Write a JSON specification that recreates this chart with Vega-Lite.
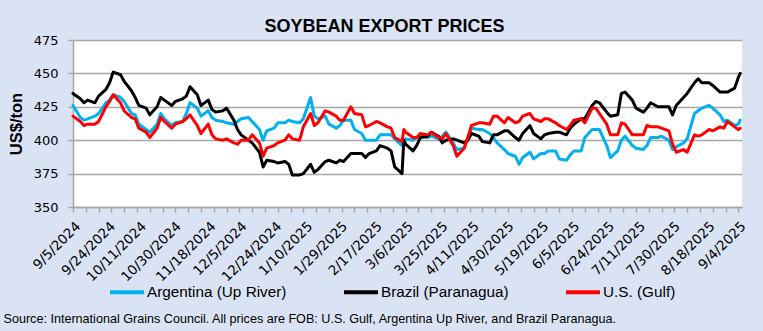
{
  "$schema": "https://vega.github.io/schema/vega-lite/v6.json",
  "width": 669,
  "height": 167,
  "autosize": {"type": "none"},
  "padding": {"left": 73, "top": 40, "right": 21, "bottom": 124},
  "background": "#dae3f3",
  "config": {"view": {"stroke": null, "fill": "white"}},
  "title": {"text": "SOYBEAN EXPORT PRICES", "font": "Liberation Sans", "fontSize": 18, "fontWeight": "bold", "color": "#000000", "anchor": "middle", "dx": -23, "dy": 23, "offset": 7, "baseline": "alphabetic"},
  "data": {"values": [
    {"date": "2024-09-05", "Argentina": 426, "Brazil": 435, "US": 418},
    {"date": "2024-09-09", "Argentina": 417, "Brazil": 431, "US": 414},
    {"date": "2024-09-11", "Argentina": 415, "Brazil": 428, "US": 411},
    {"date": "2024-09-13", "Argentina": 416, "Brazil": 430, "US": 412},
    {"date": "2024-09-17", "Argentina": 418, "Brazil": 428, "US": 412},
    {"date": "2024-09-19", "Argentina": 420, "Brazil": 433, "US": 414},
    {"date": "2024-09-23", "Argentina": 428, "Brazil": 438, "US": 425},
    {"date": "2024-09-25", "Argentina": 430, "Brazil": 443, "US": 429},
    {"date": "2024-09-27", "Argentina": 434, "Brazil": 451, "US": 434},
    {"date": "2024-10-01", "Argentina": 432, "Brazil": 449, "US": 428},
    {"date": "2024-10-03", "Argentina": 429, "Brazil": 444, "US": 422},
    {"date": "2024-10-07", "Argentina": 420, "Brazil": 437, "US": 417},
    {"date": "2024-10-09", "Argentina": 419, "Brazil": 432, "US": 416},
    {"date": "2024-10-11", "Argentina": 412, "Brazil": 426, "US": 409},
    {"date": "2024-10-15", "Argentina": 408, "Brazil": 424, "US": 406},
    {"date": "2024-10-17", "Argentina": 406, "Brazil": 419, "US": 402},
    {"date": "2024-10-21", "Argentina": 412, "Brazil": 425, "US": 409},
    {"date": "2024-10-23", "Argentina": 420, "Brazil": 432, "US": 417},
    {"date": "2024-10-25", "Argentina": 416, "Brazil": 430, "US": 414},
    {"date": "2024-10-29", "Argentina": 411, "Brazil": 426, "US": 409},
    {"date": "2024-10-31", "Argentina": 413, "Brazil": 429, "US": 412},
    {"date": "2024-11-04", "Argentina": 414, "Brazil": 431, "US": 414},
    {"date": "2024-11-06", "Argentina": 420, "Brazil": 433, "US": 416},
    {"date": "2024-11-08", "Argentina": 428, "Brazil": 440, "US": 419},
    {"date": "2024-11-12", "Argentina": 424, "Brazil": 434, "US": 411},
    {"date": "2024-11-14", "Argentina": 418, "Brazil": 426, "US": 405},
    {"date": "2024-11-18", "Argentina": 422, "Brazil": 430, "US": 412},
    {"date": "2024-11-20", "Argentina": 417, "Brazil": 423, "US": 404},
    {"date": "2024-11-22", "Argentina": 415, "Brazil": 421, "US": 401},
    {"date": "2024-11-26", "Argentina": 414, "Brazil": 422, "US": 400},
    {"date": "2024-11-28", "Argentina": 413, "Brazil": 424, "US": 401},
    {"date": "2024-12-02", "Argentina": 412, "Brazil": 415, "US": 398},
    {"date": "2024-12-04", "Argentina": 414, "Brazil": 408, "US": 397},
    {"date": "2024-12-06", "Argentina": 416, "Brazil": 404, "US": 400},
    {"date": "2024-12-10", "Argentina": 417, "Brazil": 400, "US": 400},
    {"date": "2024-12-12", "Argentina": 414, "Brazil": 398, "US": 404},
    {"date": "2024-12-16", "Argentina": 408, "Brazil": 391, "US": 398},
    {"date": "2024-12-18", "Argentina": 400, "Brazil": 380, "US": 388},
    {"date": "2024-12-20", "Argentina": 407, "Brazil": 385, "US": 394},
    {"date": "2024-12-24", "Argentina": 409, "Brazil": 384, "US": 396},
    {"date": "2024-12-26", "Argentina": 413, "Brazil": 383, "US": 398},
    {"date": "2024-12-30", "Argentina": 413, "Brazil": 384, "US": 400},
    {"date": "2025-01-01", "Argentina": 415, "Brazil": 382, "US": 404},
    {"date": "2025-01-03", "Argentina": 414, "Brazil": 374, "US": 401},
    {"date": "2025-01-07", "Argentina": 413, "Brazil": 374, "US": 400},
    {"date": "2025-01-09", "Argentina": 416, "Brazil": 375, "US": 410},
    {"date": "2025-01-13", "Argentina": 432, "Brazil": 382, "US": 420},
    {"date": "2025-01-15", "Argentina": 418, "Brazil": 376, "US": 411},
    {"date": "2025-01-17", "Argentina": 416, "Brazil": 378, "US": 413},
    {"date": "2025-01-21", "Argentina": 418, "Brazil": 384, "US": 422},
    {"date": "2025-01-23", "Argentina": 412, "Brazil": 385, "US": 421},
    {"date": "2025-01-27", "Argentina": 409, "Brazil": 383, "US": 418},
    {"date": "2025-01-29", "Argentina": 411, "Brazil": 385, "US": 415},
    {"date": "2025-01-31", "Argentina": 415, "Brazil": 384, "US": 415},
    {"date": "2025-02-04", "Argentina": 415, "Brazil": 390, "US": 425},
    {"date": "2025-02-06", "Argentina": 408, "Brazil": 390, "US": 420},
    {"date": "2025-02-10", "Argentina": 405, "Brazil": 390, "US": 419},
    {"date": "2025-02-12", "Argentina": 400, "Brazil": 387, "US": 410},
    {"date": "2025-02-14", "Argentina": 400, "Brazil": 390, "US": 411},
    {"date": "2025-02-18", "Argentina": 400, "Brazil": 392, "US": 414},
    {"date": "2025-02-20", "Argentina": 404, "Brazil": 396, "US": 413},
    {"date": "2025-02-24", "Argentina": 404, "Brazil": 394, "US": 410},
    {"date": "2025-02-26", "Argentina": 404, "Brazil": 392, "US": 409},
    {"date": "2025-02-28", "Argentina": 401, "Brazil": 380, "US": 402},
    {"date": "2025-03-04", "Argentina": 396, "Brazil": 375, "US": 399},
    {"date": "2025-03-05", "Argentina": 399, "Brazil": 400, "US": 408},
    {"date": "2025-03-06", "Argentina": 401, "Brazil": 397, "US": 406},
    {"date": "2025-03-10", "Argentina": 400, "Brazil": 392, "US": 402},
    {"date": "2025-03-12", "Argentina": 402, "Brazil": 396, "US": 402},
    {"date": "2025-03-14", "Argentina": 403, "Brazil": 402, "US": 405},
    {"date": "2025-03-18", "Argentina": 402, "Brazil": 403, "US": 404},
    {"date": "2025-03-20", "Argentina": 403, "Brazil": 406, "US": 406},
    {"date": "2025-03-24", "Argentina": 401, "Brazil": 403, "US": 402},
    {"date": "2025-03-26", "Argentina": 403, "Brazil": 398, "US": 401},
    {"date": "2025-03-28", "Argentina": 406, "Brazil": 400, "US": 405},
    {"date": "2025-04-01", "Argentina": 398, "Brazil": 401, "US": 396},
    {"date": "2025-04-03", "Argentina": 393, "Brazil": 400, "US": 388},
    {"date": "2025-04-07", "Argentina": 394, "Brazil": 398, "US": 394},
    {"date": "2025-04-09", "Argentina": 402, "Brazil": 400, "US": 402},
    {"date": "2025-04-11", "Argentina": 409, "Brazil": 405, "US": 411},
    {"date": "2025-04-15", "Argentina": 408, "Brazil": 403, "US": 413},
    {"date": "2025-04-17", "Argentina": 408, "Brazil": 399, "US": 413},
    {"date": "2025-04-21", "Argentina": 405, "Brazil": 398, "US": 412},
    {"date": "2025-04-23", "Argentina": 402, "Brazil": 404, "US": 418},
    {"date": "2025-04-25", "Argentina": 398, "Brazil": 404, "US": 418},
    {"date": "2025-04-29", "Argentina": 393, "Brazil": 407, "US": 413},
    {"date": "2025-05-01", "Argentina": 390, "Brazil": 407, "US": 417},
    {"date": "2025-05-05", "Argentina": 388, "Brazil": 402, "US": 413},
    {"date": "2025-05-07", "Argentina": 382, "Brazil": 400, "US": 414},
    {"date": "2025-05-09", "Argentina": 387, "Brazil": 405, "US": 418},
    {"date": "2025-05-13", "Argentina": 391, "Brazil": 411, "US": 420},
    {"date": "2025-05-15", "Argentina": 386, "Brazil": 405, "US": 416},
    {"date": "2025-05-19", "Argentina": 390, "Brazil": 401, "US": 414},
    {"date": "2025-05-21", "Argentina": 390, "Brazil": 404, "US": 416},
    {"date": "2025-05-23", "Argentina": 392, "Brazil": 405, "US": 416},
    {"date": "2025-05-27", "Argentina": 392, "Brazil": 406, "US": 413},
    {"date": "2025-05-29", "Argentina": 386, "Brazil": 406, "US": 411},
    {"date": "2025-06-02", "Argentina": 385, "Brazil": 404, "US": 408},
    {"date": "2025-06-04", "Argentina": 389, "Brazil": 409, "US": 411},
    {"date": "2025-06-06", "Argentina": 392, "Brazil": 412, "US": 415},
    {"date": "2025-06-10", "Argentina": 392, "Brazil": 416, "US": 416},
    {"date": "2025-06-12", "Argentina": 402, "Brazil": 416, "US": 413},
    {"date": "2025-06-16", "Argentina": 408, "Brazil": 426, "US": 424},
    {"date": "2025-06-18", "Argentina": 408, "Brazil": 429, "US": 424},
    {"date": "2025-06-20", "Argentina": 408, "Brazil": 428, "US": 420},
    {"date": "2025-06-24", "Argentina": 396, "Brazil": 421, "US": 412},
    {"date": "2025-06-26", "Argentina": 387, "Brazil": 418, "US": 404},
    {"date": "2025-06-30", "Argentina": 392, "Brazil": 419, "US": 404},
    {"date": "2025-07-02", "Argentina": 400, "Brazil": 435, "US": 413},
    {"date": "2025-07-04", "Argentina": 403, "Brazil": 436, "US": 412},
    {"date": "2025-07-08", "Argentina": 396, "Brazil": 430, "US": 404},
    {"date": "2025-07-10", "Argentina": 394, "Brazil": 424, "US": 404},
    {"date": "2025-07-14", "Argentina": 393, "Brazil": 421, "US": 404},
    {"date": "2025-07-16", "Argentina": 396, "Brazil": 424, "US": 411},
    {"date": "2025-07-18", "Argentina": 402, "Brazil": 428, "US": 410},
    {"date": "2025-07-22", "Argentina": 402, "Brazil": 425, "US": 410},
    {"date": "2025-07-24", "Argentina": 403, "Brazil": 425, "US": 409},
    {"date": "2025-07-28", "Argentina": 400, "Brazil": 425, "US": 407},
    {"date": "2025-07-30", "Argentina": 393, "Brazil": 419, "US": 397},
    {"date": "2025-08-01", "Argentina": 395, "Brazil": 426, "US": 391},
    {"date": "2025-08-05", "Argentina": 398, "Brazil": 432, "US": 393},
    {"date": "2025-08-07", "Argentina": 401, "Brazil": 435, "US": 391},
    {"date": "2025-08-11", "Argentina": 420, "Brazil": 443, "US": 404},
    {"date": "2025-08-13", "Argentina": 422, "Brazil": 446, "US": 403},
    {"date": "2025-08-15", "Argentina": 424, "Brazil": 443, "US": 404},
    {"date": "2025-08-19", "Argentina": 426, "Brazil": 443, "US": 408},
    {"date": "2025-08-21", "Argentina": 424, "Brazil": 441, "US": 407},
    {"date": "2025-08-25", "Argentina": 419, "Brazil": 436, "US": 410},
    {"date": "2025-08-27", "Argentina": 414, "Brazil": 436, "US": 409},
    {"date": "2025-08-29", "Argentina": 415, "Brazil": 436, "US": 414},
    {"date": "2025-09-02", "Argentina": 411, "Brazil": 439, "US": 410},
    {"date": "2025-09-04", "Argentina": 412, "Brazil": 447, "US": 408},
    {"date": "2025-09-05", "Argentina": 415, "Brazil": 450, "US": 409}
  ]},
  "transform": [{"fold": ["Argentina", "Brazil", "US"], "as": ["series", "price"]}],
  "mark": {"type": "line", "strokeWidth": 3, "strokeJoin": "round", "strokeCap": "round"},
  "encoding": {
    "x": {
      "field": "date", "type": "temporal",
      "scale": {"type": "utc", "domain": [{"year": 2024, "month": 9, "date": 5, "utc": true}, {"year": 2025, "month": 9, "date": 6, "utc": true}]},
      "axis": {
        "values": [
          {"year": 2024, "month": 9, "date": 5, "utc": true}, {"year": 2024, "month": 9, "date": 12, "utc": true}, {"year": 2024, "month": 9, "date": 19, "utc": true}, {"year": 2024, "month": 9, "date": 24, "utc": true}, {"year": 2024, "month": 9, "date": 26, "utc": true},
          {"year": 2024, "month": 10, "date": 3, "utc": true}, {"year": 2024, "month": 10, "date": 10, "utc": true}, {"year": 2024, "month": 10, "date": 11, "utc": true}, {"year": 2024, "month": 10, "date": 17, "utc": true}, {"year": 2024, "month": 10, "date": 24, "utc": true}, {"year": 2024, "month": 10, "date": 30, "utc": true}, {"year": 2024, "month": 10, "date": 31, "utc": true},
          {"year": 2024, "month": 11, "date": 7, "utc": true}, {"year": 2024, "month": 11, "date": 14, "utc": true}, {"year": 2024, "month": 11, "date": 18, "utc": true}, {"year": 2024, "month": 11, "date": 21, "utc": true}, {"year": 2024, "month": 11, "date": 28, "utc": true},
          {"year": 2024, "month": 12, "date": 5, "utc": true}, {"year": 2024, "month": 12, "date": 12, "utc": true}, {"year": 2024, "month": 12, "date": 19, "utc": true}, {"year": 2024, "month": 12, "date": 24, "utc": true}, {"year": 2024, "month": 12, "date": 26, "utc": true},
          {"year": 2025, "month": 1, "date": 2, "utc": true}, {"year": 2025, "month": 1, "date": 9, "utc": true}, {"year": 2025, "month": 1, "date": 10, "utc": true}, {"year": 2025, "month": 1, "date": 16, "utc": true}, {"year": 2025, "month": 1, "date": 23, "utc": true}, {"year": 2025, "month": 1, "date": 29, "utc": true}, {"year": 2025, "month": 1, "date": 30, "utc": true},
          {"year": 2025, "month": 2, "date": 6, "utc": true}, {"year": 2025, "month": 2, "date": 13, "utc": true}, {"year": 2025, "month": 2, "date": 17, "utc": true}, {"year": 2025, "month": 2, "date": 20, "utc": true}, {"year": 2025, "month": 2, "date": 27, "utc": true},
          {"year": 2025, "month": 3, "date": 6, "utc": true}, {"year": 2025, "month": 3, "date": 13, "utc": true}, {"year": 2025, "month": 3, "date": 20, "utc": true}, {"year": 2025, "month": 3, "date": 25, "utc": true}, {"year": 2025, "month": 3, "date": 27, "utc": true},
          {"year": 2025, "month": 4, "date": 3, "utc": true}, {"year": 2025, "month": 4, "date": 10, "utc": true}, {"year": 2025, "month": 4, "date": 11, "utc": true}, {"year": 2025, "month": 4, "date": 17, "utc": true}, {"year": 2025, "month": 4, "date": 24, "utc": true}, {"year": 2025, "month": 4, "date": 30, "utc": true},
          {"year": 2025, "month": 5, "date": 1, "utc": true}, {"year": 2025, "month": 5, "date": 8, "utc": true}, {"year": 2025, "month": 5, "date": 15, "utc": true}, {"year": 2025, "month": 5, "date": 19, "utc": true}, {"year": 2025, "month": 5, "date": 22, "utc": true}, {"year": 2025, "month": 5, "date": 29, "utc": true},
          {"year": 2025, "month": 6, "date": 5, "utc": true}, {"year": 2025, "month": 6, "date": 12, "utc": true}, {"year": 2025, "month": 6, "date": 19, "utc": true}, {"year": 2025, "month": 6, "date": 24, "utc": true}, {"year": 2025, "month": 6, "date": 26, "utc": true},
          {"year": 2025, "month": 7, "date": 3, "utc": true}, {"year": 2025, "month": 7, "date": 10, "utc": true}, {"year": 2025, "month": 7, "date": 11, "utc": true}, {"year": 2025, "month": 7, "date": 17, "utc": true}, {"year": 2025, "month": 7, "date": 24, "utc": true}, {"year": 2025, "month": 7, "date": 30, "utc": true}, {"year": 2025, "month": 7, "date": 31, "utc": true},
          {"year": 2025, "month": 8, "date": 7, "utc": true}, {"year": 2025, "month": 8, "date": 14, "utc": true}, {"year": 2025, "month": 8, "date": 18, "utc": true}, {"year": 2025, "month": 8, "date": 21, "utc": true}, {"year": 2025, "month": 8, "date": 28, "utc": true},
          {"year": 2025, "month": 9, "date": 4, "utc": true}
        ],
        "labelExpr": "indexof(['9/5/2024','9/24/2024','10/11/2024','10/30/2024','11/18/2024','12/5/2024','12/24/2024','1/10/2025','1/29/2025','2/17/2025','3/6/2025','3/25/2025','4/11/2025','4/30/2025','5/19/2025','6/5/2025','6/24/2025','7/11/2025','7/30/2025','8/18/2025','9/4/2025'], utcFormat(datum.value, '%-m/%-d/%Y')) >= 0 ? utcFormat(datum.value, '%-m/%-d/%Y') : ''",
        "labelAngle": -45,
        "labelFont": "DejaVu Sans",
        "labelFontSize": 13.5,
        "labelColor": "#000000",
        "labelOverlap": false,
        "labelBound": false,
        "labelFlush": false,
        "labelPadding": 7,
        "grid": false,
        "tickOpacity": {"condition": {"test": "utcday(datum.value) === 4", "value": 1}, "value": 0},
        "tickColor": "#a6a6a6",
        "tickSize": 5,
        "tickWidth": 1.5,
        "domainColor": "#a6a6a6",
        "domainWidth": 1.5,
        "title": "Source: International Grains Council. All prices are FOB: U.S. Gulf, Argentina Up River, and Brazil Paranagua.",
        "titleX": -70,
        "titleY": 115,
        "titleAnchor": "start",
        "titleAlign": "left",
        "titleBaseline": "alphabetic",
        "titleFont": "Liberation Sans",
        "titleFontSize": 12.6,
        "titleFontWeight": "normal",
        "titleColor": "#000000"
      }
    },
    "y": {
      "field": "price", "type": "quantitative",
      "scale": {"domain": [350, 475], "nice": false, "zero": false},
      "axis": {
        "values": [350, 375, 400, 425, 450, 475],
        "title": "US$/ton",
        "titleFont": "Liberation Sans",
        "titleFontSize": 16.5,
        "titleFontWeight": "bold",
        "titleColor": "#000000",
        "titlePadding": 9,
        "labelFont": "DejaVu Sans",
        "labelFontSize": 13,
        "labelColor": "#000000",
        "labelPadding": 10,
        "labelFlush": false,
        "tickColor": "#a6a6a6",
        "tickSize": 5,
        "tickWidth": 1.5,
        "domainColor": "#a6a6a6",
        "domainWidth": 1.5,
        "gridColor": "#a6a6a6",
        "gridWidth": 1.5
      }
    },
    "color": {
      "field": "series", "type": "nominal",
      "scale": {"domain": ["Argentina", "Brazil", "US"], "range": ["#00b0f0", "#000000", "#ff0000"]},
      "legend": {
        "orient": "none",
        "legendX": 35,
        "legendY": 233,
        "direction": "horizontal",
        "columns": 3,
        "title": null,
        "symbolType": "stroke",
        "symbolSize": 1156,
        "symbolStrokeWidth": 4,
        "labelFont": "Liberation Sans",
        "labelFontSize": 15.3,
        "labelColor": "#000000",
        "labelOffset": 1,
        "columnPadding": 49,
        "labelLimit": 300,
        "labelExpr": "{'Argentina': 'Argentina (Up River)', 'Brazil': 'Brazil (Paranagua)', 'US': 'U.S. (Gulf)'}[datum.value]"
      }
    }
  }
}
